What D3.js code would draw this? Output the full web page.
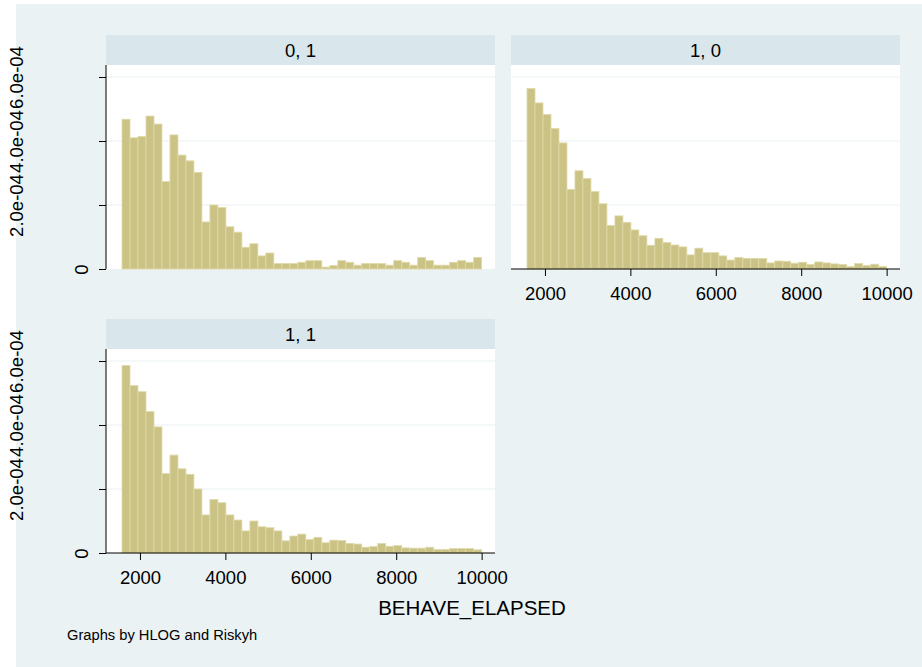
<!DOCTYPE html>
<html>
<head>
<meta charset="utf-8">
<script src="https://cdn.jsdelivr.net/npm/d3@7"></script>
<style>
  body { margin: 0; background: #fff; }
  text { font-family: "Liberation Sans", Arial, sans-serif; fill: #000; }
</style>
</head>
<body>
<svg id="chart"></svg>
<script>
// chart data

var panelTitles = ["0, 1", "1, 0", "1, 1"];

// histogram bins: 45 bins from 1580 to 10000
var binStart = 1580, binEnd = 10000, binCount = 45;

// densities per bin
var dens01 = [4.68e-4, 4.10e-4, 4.14e-4, 4.78e-4, 4.53e-4, 2.73e-4, 4.19e-4, 3.56e-4, 3.38e-4, 3.02e-4,
              1.47e-4, 2.00e-4, 1.92e-4, 1.32e-4, 1.15e-4, 0.68e-4, 0.79e-4, 0.41e-4, 0.50e-4, 0.17e-4,
              0.17e-4, 0.17e-4, 0.21e-4, 0.26e-4, 0.26e-4, 0.06e-4, 0.11e-4, 0.26e-4, 0.21e-4, 0.12e-4,
              0.17e-4, 0.17e-4, 0.17e-4, 0.12e-4, 0.26e-4, 0.21e-4, 0.12e-4, 0.36e-4, 0.26e-4, 0.12e-4,
              0.12e-4, 0.21e-4, 0.26e-4, 0.21e-4, 0.36e-4];

var dens10 = [5.64e-4, 5.19e-4, 4.83e-4, 4.39e-4, 3.94e-4, 2.49e-4, 3.07e-4, 2.83e-4, 2.42e-4, 2.04e-4,
              1.36e-4, 1.66e-4, 1.46e-4, 1.22e-4, 1.04e-4, 0.74e-4, 0.96e-4, 0.83e-4, 0.75e-4, 0.69e-4,
              0.44e-4, 0.65e-4, 0.51e-4, 0.51e-4, 0.41e-4, 0.28e-4, 0.36e-4, 0.33e-4, 0.33e-4, 0.33e-4,
              0.19e-4, 0.25e-4, 0.24e-4, 0.18e-4, 0.21e-4, 0.14e-4, 0.22e-4, 0.19e-4, 0.16e-4, 0.14e-4,
              0.08e-4, 0.17e-4, 0.11e-4, 0.15e-4, 0.08e-4];

var dens11 = [5.86e-4, 5.23e-4, 5.04e-4, 4.42e-4, 3.94e-4, 2.48e-4, 3.06e-4, 2.63e-4, 2.46e-4, 2.00e-4,
              1.19e-4, 1.67e-4, 1.57e-4, 1.19e-4, 1.03e-4, 0.69e-4, 1.00e-4, 0.82e-4, 0.79e-4, 0.69e-4,
              0.38e-4, 0.53e-4, 0.59e-4, 0.42e-4, 0.49e-4, 0.32e-4, 0.40e-4, 0.39e-4, 0.30e-4, 0.28e-4,
              0.18e-4, 0.20e-4, 0.30e-4, 0.21e-4, 0.23e-4, 0.16e-4, 0.15e-4, 0.15e-4, 0.18e-4, 0.11e-4,
              0.11e-4, 0.14e-4, 0.14e-4, 0.14e-4, 0.10e-4];

var yTicks = [0, 2e-4, 4e-4, 6e-4];
var yTickLabels = ["0", "2.0e-04", "4.0e-04", "6.0e-04"];
var xTicks = [2000, 4000, 6000, 8000, 10000];

var xTitle = "BEHAVE_ELAPSED";
var note = "Graphs by HLOG and Riskyh";

// set svg params

var svgWidth = 922, svgHeight = 667;
var bgColor = "#eaf2f3", stripColor = "#d9e6eb";
var barFill = "#cbc386", barStroke = "#e0d9a7";

var panelW = 389, panelH = 204, stripH = 30;

// panel layout: left, top of plot region, show y axis, show x axis
var panels = [
  {title: panelTitles[0], data: dens01, left: 106, top: 65,  yAxis: true,  xAxis: false},
  {title: panelTitles[1], data: dens10, left: 511, top: 65,  yAxis: false, xAxis: true},
  {title: panelTitles[2], data: dens11, left: 106, top: 349, yAxis: true,  xAxis: true}
];

var binWidth = (binEnd - binStart) / binCount;
var edges = d3.range(binCount).map(function (i) { return binStart + i * binWidth; });

var xScale = d3.scaleLinear()
  .domain([1205, 10313])
  .range([0, panelW]);

var yScale = d3.scaleLinear()
  .domain([0, 6.375e-4])
  .range([panelH, 0]);

var svg = d3.select("#chart")
  .attr("width", svgWidth)
  .attr("height", svgHeight);

svg.append("rect")
  .attr("x", 16).attr("y", 4)
  .attr("width", svgWidth - 16).attr("height", svgHeight - 4)
  .attr("fill", bgColor);

panels.forEach(function (p) {
  var g = svg.append("g")
    .attr("transform", "translate(" + p.left + "," + p.top + ")");

  // title strip
  g.append("rect")
    .attr("x", 0).attr("y", -stripH)
    .attr("width", panelW).attr("height", stripH)
    .attr("fill", stripColor);
  g.append("text")
    .attr("x", panelW / 2).attr("y", -8)
    .attr("text-anchor", "middle")
    .attr("font-size", 18.5)
    .text(p.title);

  // plot region
  g.append("rect")
    .attr("width", panelW).attr("height", panelH)
    .attr("fill", "#fff");

  g.selectAll(".grid")
    .data(yTicks.slice(1))
    .enter().append("line")
    .attr("x1", 0).attr("x2", panelW)
    .attr("y1", function (d) { return yScale(d); })
    .attr("y2", function (d) { return yScale(d); })
    .attr("stroke", bgColor)
    .attr("stroke-width", 1.2);

  // bars
  g.selectAll(".bar")
    .data(p.data)
    .enter().append("rect")
    .attr("x", function (d, i) { return xScale(edges[i]); })
    .attr("y", function (d) { return yScale(d); })
    .attr("width", xScale(binStart + binWidth) - xScale(binStart))
    .attr("height", function (d) { return panelH - yScale(d); })
    .attr("fill", barFill)
    .attr("stroke", barStroke)
    .attr("stroke-width", 0.8);

  if (p.yAxis) {
    var ya = g.append("g")
      .call(d3.axisLeft(yScale)
        .tickValues(yTicks)
        .tickSize(7)
        .tickFormat(function (d, i) { return yTickLabels[i]; }));
    ya.select(".domain").attr("d", "M0,0V" + panelH).attr("stroke", "#000");
    ya.selectAll(".tick line").attr("stroke", "#000");
    ya.selectAll(".tick text")
      .attr("font-family", null)
      .attr("font-size", 18.5)
      .attr("fill", "#000")
      .attr("text-anchor", "middle")
      .attr("x", null).attr("dy", null)
      .attr("transform", function (d) {
        return "translate(" + (d === 0 ? -18 : -83) + ",0) rotate(-90)";
      });
  }

  if (p.xAxis) {
    var xa = g.append("g")
      .attr("transform", "translate(0," + panelH + ")")
      .call(d3.axisBottom(xScale)
        .tickValues(xTicks)
        .tickSize(7)
        .tickFormat(d3.format("d")));
    xa.select(".domain").attr("d", "M0,0H" + panelW).attr("stroke", "#000");
    xa.selectAll(".tick line").attr("stroke", "#000");
    xa.selectAll(".tick text")
      .attr("font-family", null)
      .attr("font-size", 18.5)
      .attr("fill", "#000")
      .attr("y", 31).attr("dy", null);
  }
});

svg.append("text")
  .attr("x", 472).attr("y", 615)
  .attr("text-anchor", "middle")
  .attr("font-size", 20.5)
  .text(xTitle);

svg.append("text")
  .attr("x", 67).attr("y", 640)
  .attr("font-size", 14.7)
  .text(note);
</script>
</body>
</html>
